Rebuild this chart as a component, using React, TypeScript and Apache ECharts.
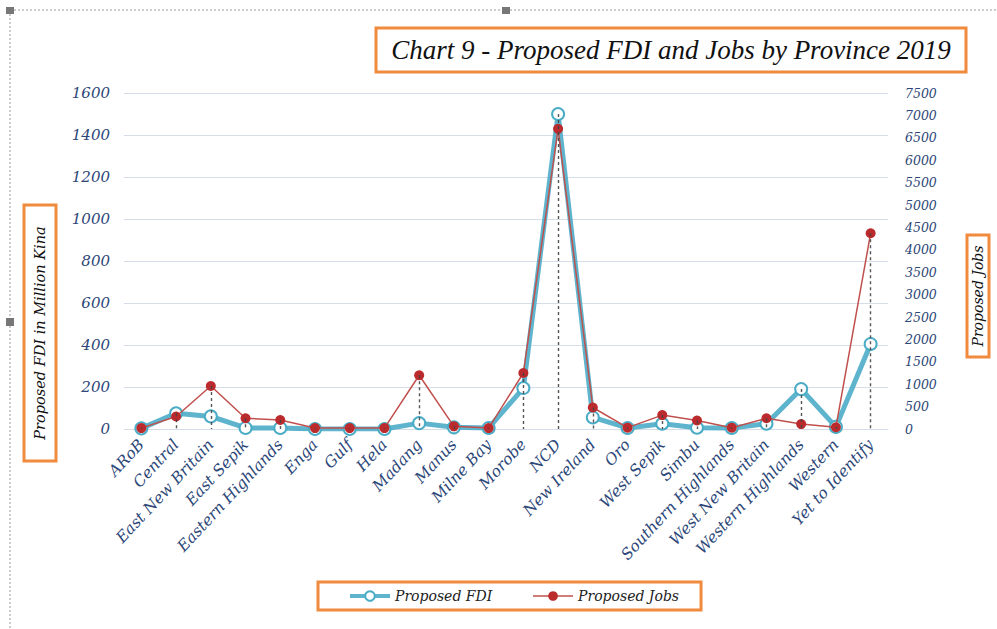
import React, { useEffect, useRef } from "react";
import * as echarts from "echarts";

// Provinces along the category axis
const provinces = [
  "ARoB", "Central", "East New Britain", "East Sepik", "Eastern Highlands",
  "Enga", "Gulf", "Hela", "Madang", "Manus", "Milne Bay", "Morobe", "NCD",
  "New Ireland", "Oro", "West Sepik", "Simbu", "Southern Highlands",
  "West New Britain", "Western Highlands", "Western", "Yet to Identify",
];

// Proposed FDI, million Kina (left axis)
const proposedFDI = [
  3, 75, 60, 5, 5, 0, 0, 0, 28, 8, 5, 195, 1500, 55, 5, 25, 6, 5, 25, 190, 10, 405,
];

// Proposed jobs (right axis)
const proposedJobs = [
  20, 280, 960, 240, 200, 20, 20, 20, 1200, 60, 20, 1250, 6700, 480, 30, 310, 190, 30, 240, 110, 40, 4370,
];

const FDI_MAX = 1600;
const JOBS_MAX = 7500;

const ORANGE = "#f08a3c";
const TEAL = "#4bacc6";
const AXIS_TEXT = "#2c4778";
const SERIF = "DejaVu Serif";
const TITLE_FONT = "Liberation Serif";

export default function App() {
  const ref = useRef<HTMLDivElement>(null);

  useEffect(() => {
    if (!ref.current) return;
    const chart = echarts.init(ref.current, undefined, { renderer: "svg" });

    // Drop lines run from the higher of the two markers down to the axis,
    // expressed in FDI units on the primary axis.
    const dropLines = provinces.map((_, i) => {
      const top = Math.max(proposedFDI[i], (proposedJobs[i] * FDI_MAX) / JOBS_MAX);
      return [{ coord: [i, top] }, { coord: [i, 0] }];
    });

    const axisLabel = {
      fontFamily: SERIF,
      fontStyle: "italic" as const,
      fontSize: 15,
      color: AXIS_TEXT,
    };
    const plain = (v: number) => String(v);

    chart.setOption({
      animation: false,
      backgroundColor: "#ffffff",
      grid: { left: 124, right: 109, top: 93, bottom: 200 },
      xAxis: {
        type: "category",
        data: provinces,
        boundaryGap: true,
        axisLine: { lineStyle: { color: "#d5dde8" } },
        axisTick: { show: false },
        axisLabel: { ...axisLabel, fontSize: 15.5, rotate: 47, margin: 13, interval: 0 },
      },
      yAxis: [
        {
          type: "value",
          min: 0,
          max: FDI_MAX,
          interval: 200,
          axisLine: { show: false },
          axisTick: { show: false },
          splitLine: { lineStyle: { color: "#d5dde8", width: 1 } },
          axisLabel: { ...axisLabel, margin: 14, formatter: plain },
        },
        {
          type: "value",
          min: 0,
          max: JOBS_MAX,
          interval: 500,
          axisLine: { show: false },
          axisTick: { show: false },
          splitLine: { show: false },
          axisLabel: { ...axisLabel, fontSize: 12.5, margin: 17, formatter: plain },
        },
      ],
      legend: {
        left: 318,
        top: 582,
        padding: [7, 22, 7, 30],
        itemGap: 40,
        itemWidth: 40,
        itemHeight: 12,
        borderColor: ORANGE,
        borderWidth: 3,
        backgroundColor: "#ffffff",
        textStyle: { fontFamily: SERIF, fontStyle: "italic", fontSize: 14, color: "#222" },
        data: [
          { name: "Proposed FDI", lineStyle: { width: 4 } },
          { name: "Proposed Jobs", lineStyle: { width: 1.5 } },
        ],
      },
      series: [
        {
          name: "Proposed FDI",
          type: "line",
          yAxisIndex: 0,
          data: proposedFDI,
          z: 3,
          symbol: "emptyCircle",
          symbolSize: 12,
          itemStyle: { color: TEAL, borderWidth: 3, borderColor: TEAL },
          lineStyle: { color: TEAL, width: 5, opacity: 0.9 },
          markLine: {
            silent: true,
            symbol: ["none", "none"],
            label: { show: false },
            lineStyle: { color: "#444", type: [3, 3], width: 1.4, opacity: 0.9 },
            data: dropLines,
          },
        },
        {
          name: "Proposed Jobs",
          type: "line",
          yAxisIndex: 1,
          data: proposedJobs,
          z: 4,
          symbol: "circle",
          symbolSize: 10,
          itemStyle: { color: "#bb2a2c" },
          lineStyle: { color: "#c0504d", width: 1.5 },
        },
      ],
      graphic: [
        // selection frame around the chart object
        {
          type: "line",
          shape: { x1: 10, y1: 10, x2: 997, y2: 10 },
          style: { stroke: "#9a9a9a", lineWidth: 1, lineDash: [2, 2] },
        },
        {
          type: "line",
          shape: { x1: 10, y1: 10, x2: 10, y2: 629 },
          style: { stroke: "#9a9a9a", lineWidth: 1, lineDash: [2, 2] },
        },
        { type: "rect", shape: { x: 6, y: 7, width: 8, height: 7 }, style: { fill: "#777" } },
        { type: "rect", shape: { x: 502, y: 7, width: 8, height: 7 }, style: { fill: "#777" } },
        { type: "rect", shape: { x: 6, y: 318, width: 8, height: 8 }, style: { fill: "#777" } },
        // title box
        {
          type: "rect",
          shape: { x: 376, y: 28, width: 590, height: 44 },
          style: { fill: "#ffffff", stroke: ORANGE, lineWidth: 3 },
        },
        {
          type: "text",
          x: 671,
          y: 50,
          style: {
            text: "Chart 9 - Proposed FDI and Jobs by Province 2019",
            fontFamily: TITLE_FONT,
            fontStyle: "italic",
            fontSize: 27,
            fill: "#111",
            align: "center",
            verticalAlign: "middle",
          },
        },
        // left axis title box
        {
          type: "rect",
          shape: { x: 24, y: 205, width: 32, height: 256 },
          style: { fill: "#ffffff", stroke: ORANGE, lineWidth: 3 },
        },
        {
          type: "text",
          x: 40,
          y: 333,
          rotation: Math.PI / 2,
          style: {
            text: "Proposed FDI in Million Kina",
            fontFamily: SERIF,
            fontStyle: "italic",
            fontSize: 14.5,
            fill: "#111",
            align: "center",
            verticalAlign: "middle",
          },
        },
        // right axis title box
        {
          type: "rect",
          shape: { x: 967, y: 235, width: 22, height: 122 },
          style: { fill: "#ffffff", stroke: ORANGE, lineWidth: 3 },
        },
        {
          type: "text",
          x: 978,
          y: 296,
          rotation: Math.PI / 2,
          style: {
            text: "Proposed Jobs",
            fontFamily: SERIF,
            fontStyle: "italic",
            fontSize: 14,
            fill: "#111",
            align: "center",
            verticalAlign: "middle",
          },
        },
      ],
    });

    return () => chart.dispose();
  }, []);

  return (
    <div
      ref={ref}
      style={{ position: "absolute", left: 0, top: 0, width: 997, height: 629 }}
    />
  );
}
